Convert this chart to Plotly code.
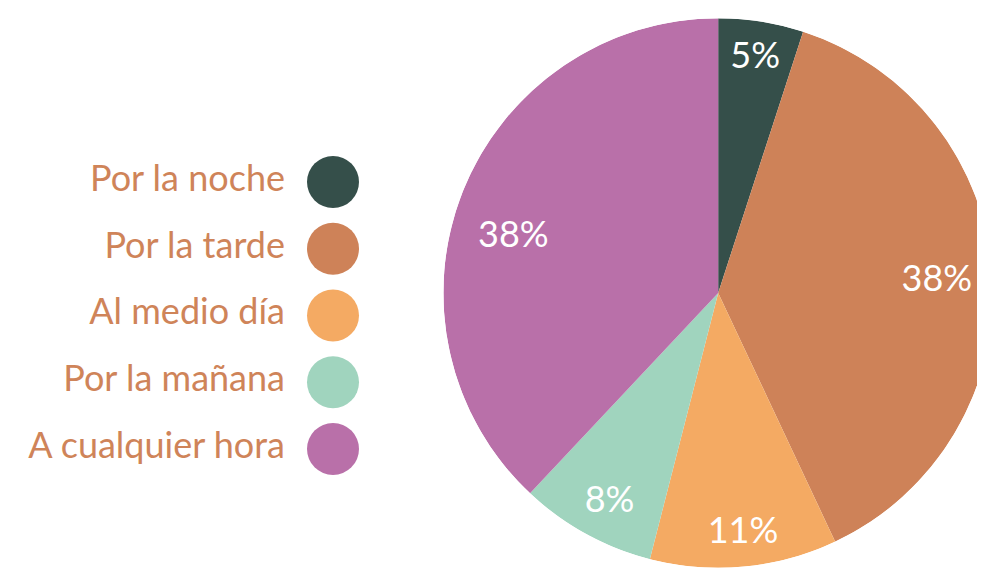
import plotly.graph_objects as go

categorias = ["Por la noche", "Por la tarde", "Al medio día", "Por la mañana", "A cualquier hora"]
porcentajes = [5, 38, 11, 8, 38]
colores = ["#354F4A", "#CE8258", "#F4AA63", "#A0D4BE", "#B970A9"]

texto_color = "#CF8459"
fuente = "Lato"

# colocación de las etiquetas de porcentaje: fracción del radio y giro (grados)
radio_etiqueta = [0.862, 0.797, 0.88, 0.862, 0.772]
giro_etiqueta = [0, 0.7, -0.5, -1.5, -6.5]

# ángulo medio y ancho de cada porción (grados, desde las 12 en sentido horario)
total = sum(porcentajes)
anchos = [v / total * 360 for v in porcentajes]
angulos = []
acumulado = 0
for a in anchos:
    angulos.append(acumulado + a / 2)
    acumulado += a

dominio_x = [0.442, 1.0]
dominio_y = [0.0, 1.0]

fig = go.Figure()

# la tarta como barras polares, para que las etiquetas queden encima
fig.add_trace(go.Barpolar(
    r=[1] * len(porcentajes),
    theta=angulos,
    width=anchos,
    marker=dict(color=colores, line=dict(width=0)),
    customdata=categorias,
    hovertemplate="%{customdata}<extra></extra>",
    showlegend=False,
))

fig.add_trace(go.Scatterpolar(
    r=radio_etiqueta,
    theta=[a + g for a, g in zip(angulos, giro_etiqueta)],
    mode="text",
    text=[f"{v}%" for v in porcentajes],
    textposition="middle center",
    textfont=dict(family=fuente, size=36, color="white"),
    showlegend=False,
    hoverinfo="skip",
))

# leyenda propia: texto a la izquierda, círculo a la derecha
fig.add_trace(go.Scatter(
    x=[325] * len(categorias),
    y=categorias,
    mode="markers",
    marker=dict(size=52, color=colores),
    showlegend=False,
    hoverinfo="skip",
    cliponaxis=False,
))
fig.add_trace(go.Scatter(
    x=[277] * len(categorias),
    y=categorias,
    mode="text",
    text=categorias,
    textposition="middle left",
    textfont=dict(family=fuente, size=36, color=texto_color),
    showlegend=False,
    hoverinfo="skip",
    cliponaxis=False,
))

fig.update_layout(
    width=985,
    height=570,
    margin=dict(l=0, r=0, t=7, b=7),
    paper_bgcolor="white",
    plot_bgcolor="rgba(0,0,0,0)",
    xaxis=dict(domain=[0, 0.44], range=[0, 433.4], visible=False, fixedrange=True),
    yaxis=dict(
        type="category",
        categoryarray=categorias,
        range=[5.828, -2.502],
        visible=False,
        fixedrange=True,
    ),
    polar=dict(
        domain=dict(x=dominio_x, y=dominio_y),
        bgcolor="rgba(0,0,0,0)",
        bargap=0,
        angularaxis=dict(rotation=90, direction="clockwise", visible=False, showgrid=False),
        radialaxis=dict(range=[0, 1], visible=False, showgrid=False),
    ),
)

fig.write_html("out.html")
